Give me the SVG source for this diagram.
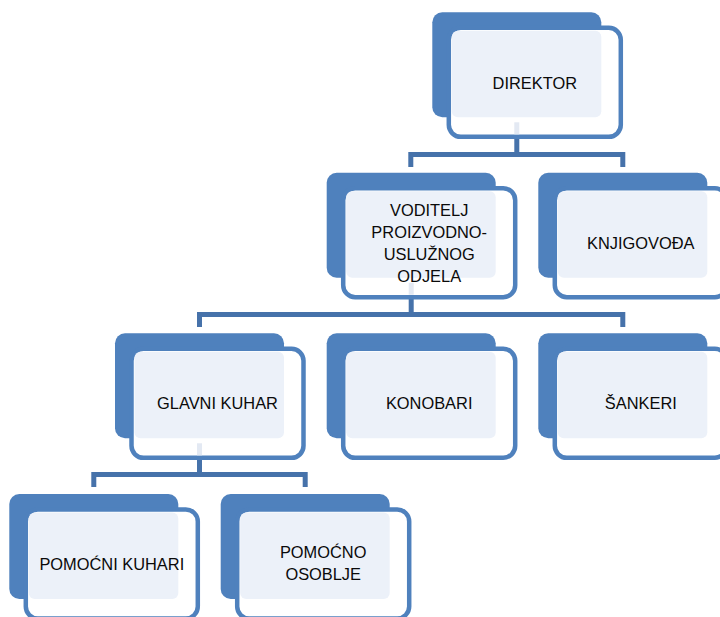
<svg xmlns="http://www.w3.org/2000/svg" width="720" height="617" viewBox="0 0 720 617">
<style>
.back{fill:#4F81BD}
.front{fill:#FFFFFF;stroke:#4F81BD;stroke-width:4.5}
.light{fill:#ECF1F9}
.stub{stroke:#E3E9F3;stroke-width:5}
.conn{fill:none;stroke:#4672AA;stroke-width:5}
.t{font-family:"Liberation Sans",Arial,sans-serif;font-size:16.4px;fill:#0A0A0A;text-anchor:middle}
</style>
<defs>
<g id="box">
<rect class="back" x="0" y="0" width="169" height="105" rx="10"/>
<rect class="front" x="16.5" y="15.5" width="172" height="109" rx="12"/>
<rect class="light" x="19.5" y="18.5" width="149.5" height="86.5" rx="6"/>
</g>
</defs>
<g id="connectors">
<path class="conn" d="M516.8,134 V154.5 M410.8,167 V154.5 H622.8 V167"/>
<path class="conn" d="M411.2,296 V314.5 M199.5,327 V314.5 H622.8 V327"/>
<path class="conn" d="M199.5,457 V474.5 M93.8,487 V474.5 H305.2 V487"/>
</g>
<g id="direktor">
<use href="#box" x="432.3" y="12.3"/>
<line class="stub" x1="516.8" y1="122.3" x2="516.8" y2="134.3"/>
<text class="t" x="534.8" y="88.8">DIREKTOR</text>
</g>
<g id="voditelj">
<use href="#box" x="326.7" y="172.7"/>
<line class="stub" x1="411.2" y1="282.7" x2="411.2" y2="294.7"/>
<text class="t" x="429.2" y="215.7">VODITELJ</text>
<text class="t" x="429.2" y="237.7">PROIZVODNO-</text>
<text class="t" x="429.2" y="260">USLUŽNOG</text>
<text class="t" x="429.2" y="281.7">ODJELA</text>
</g>
<g id="knjigovodja">
<use href="#box" x="538.3" y="172.7"/>
<text class="t" x="640.8" y="249">KNJIGOVOĐA</text>
</g>
<g id="glavni-kuhar">
<use href="#box" x="115" y="333.3"/>
<line class="stub" x1="199.5" y1="443.3" x2="199.5" y2="455.3"/>
<text class="t" x="217.5" y="409.3">GLAVNI KUHAR</text>
</g>
<g id="konobari">
<use href="#box" x="326.7" y="333.3"/>
<text class="t" x="429.2" y="409.3">KONOBARI</text>
</g>
<g id="sankeri">
<use href="#box" x="538.3" y="333.3"/>
<text class="t" x="640.8" y="409.3">ŠANKERI</text>
</g>
<g id="pomocni-kuhari">
<use href="#box" x="9.3" y="494"/>
<text class="t" x="111.8" y="570">POMOĆNI KUHARI</text>
</g>
<g id="pomocno-osoblje">
<use href="#box" x="220.7" y="494"/>
<text class="t" x="323.2" y="558.3">POMOĆNO</text>
<text class="t" x="323.2" y="580">OSOBLJE</text>
</g>
</svg>
